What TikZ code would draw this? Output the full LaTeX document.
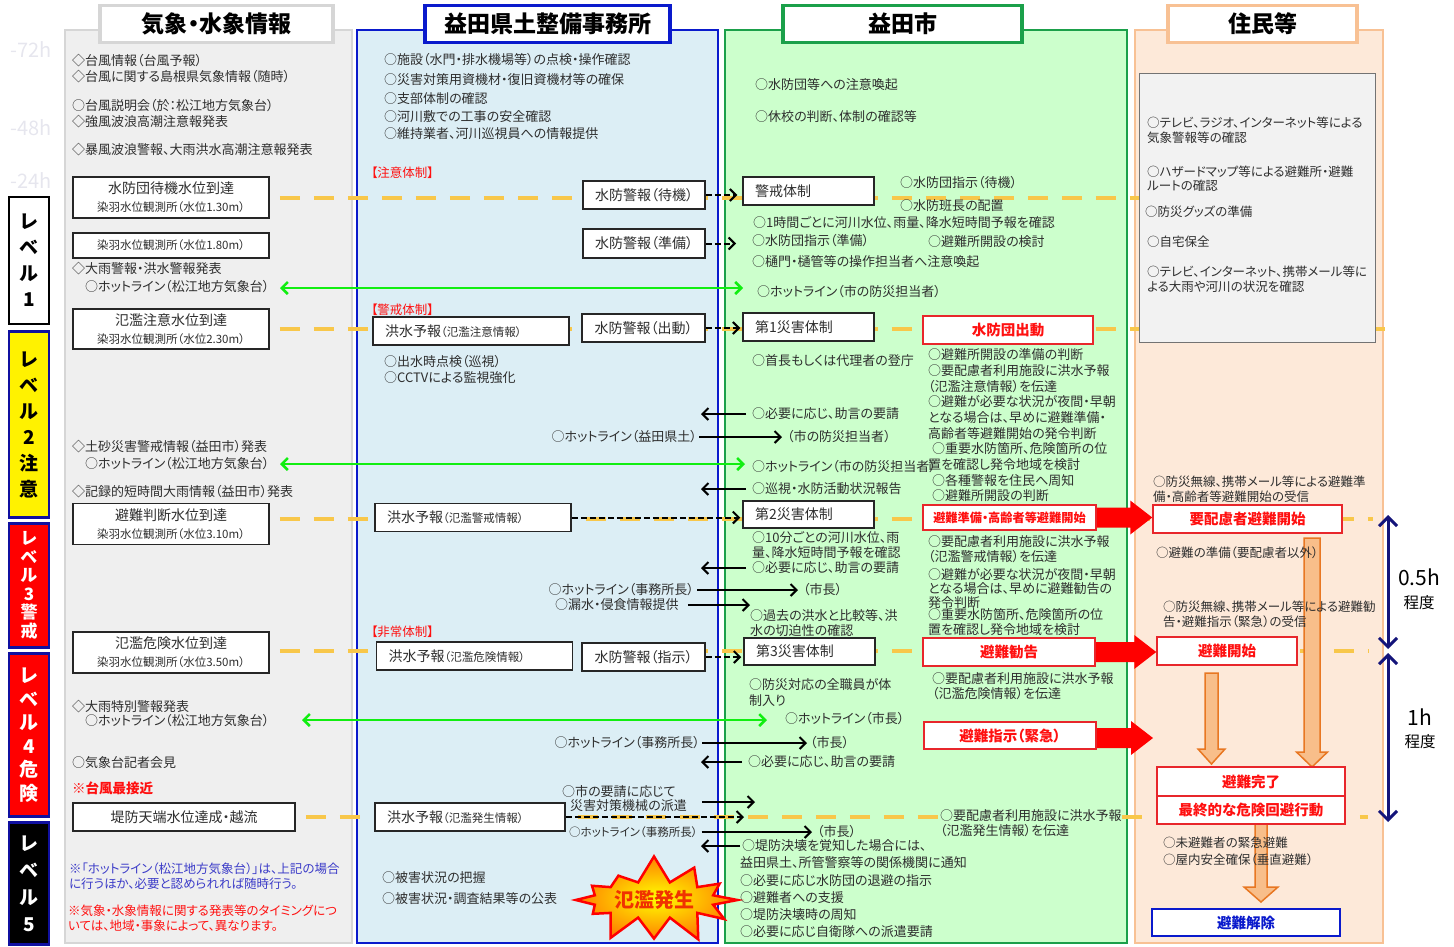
\documentclass[tikz,border=0pt]{standalone}
\usepackage{fontspec}
\setmainfont{Noto Sans CJK JP}[RawFeature=+palt]
\usetikzlibrary{arrows.meta,calc,shapes.symbols}

\definecolor{panelgray}{HTML}{EFEFEF}
\definecolor{edgegray}{HTML}{D6D6D6}
\definecolor{panelblue}{HTML}{DCEEF5}
\definecolor{edgeblue}{HTML}{0A1ACC}
\definecolor{panelgreen}{HTML}{CCFFCC}
\definecolor{edgegreen}{HTML}{1BA04A}
\definecolor{panelpeach}{HTML}{FDE9D9}
\definecolor{edgepeach}{HTML}{F8C194}
\definecolor{dashorange}{HTML}{F8C74A}
\definecolor{hotgreen}{HTML}{11EE11}
\definecolor{boxred}{HTML}{E8262B}
\definecolor{txtred}{HTML}{FF1010}
\definecolor{navyarrow}{HTML}{14147A}
\definecolor{fatfill}{HTML}{F8BE8A}
\definecolor{fatedge}{HTML}{E87722}
\definecolor{notepurple}{HTML}{3B3BC8}
\definecolor{lvlblue}{HTML}{1010A0}
\definecolor{faint}{HTML}{E6E6EE}
\definecolor{ink}{HTML}{2E2E2E}
\definecolor{innergray}{HTML}{F2F2F2}

\pgfdeclarelayer{panel}
\pgfdeclarelayer{rows}
\pgfsetlayers{panel,rows,main}

\newcommand{\szfont}[2]{\fontsize{#1}{#2}\selectfont}
\newcommand{\sitelevel}[1]{{\szfont{11.5}{13}染羽水位観測所（水位#1m）}}
\newcommand{\smallpart}[1]{{\szfont{11.5}{13}#1}}
% fat block arrows
\newcommand{\fatdown}[4]{%
  \filldraw[fatarrow] let \p1=#1, \p2=#2 in
    (\x1-#3,\y1) -- (\x1+#3,\y1) -- (\x1+#3,\y2+15pt) -- (\x1+#4,\y2+15pt)
    -- (\x1,\y2) -- (\x1-#4,\y2+15pt) -- (\x1-#3,\y2+15pt) -- cycle;}
\newcommand{\fatright}[2]{%
  \fill[red] let \p1=#1, \p2=#2 in
    (\x1,\y1+10pt) -- (\x2-22pt,\y1+10pt) -- (\x2-22pt,\y1+17pt) -- (\x2,\y1)
    -- (\x2-22pt,\y1-17pt) -- (\x2-22pt,\y1-10pt) -- (\x1,\y1-10pt) -- cycle;}

\tikzset{
  body/.style={anchor=west, inner sep=0pt, align=left, text=ink, font=\szfont{13}{15.5}},
  bodyr/.style={body, anchor=east},
  tag/.style={body, text=txtred, font=\szfont{12.5}{15}},
  wbox/.style={draw=black!85, line width=1.5pt, fill=white, inner sep=0pt, align=center, text=ink, font=\szfont{14}{18}},
  fbox/.style={wbox, minimum width=196, minimum height=28, text width=172, align=left},
  tbox/.style={wbox, minimum width=131, minimum height=28, text width=107, align=left},
  redbox/.style={draw=boxred, line width=1.5pt, fill=white, inner sep=0pt, text=txtred, font=\bfseries\szfont{14.5}{17}},
  title/.style={fill=white, line width=3.5pt, minimum height=37, inner sep=0pt, font=\bfseries\szfont{23}{26}},
  lvl/.style={draw=lvlblue, line width=2.5pt, minimum width=40, inner sep=0pt, align=center, font=\bfseries\szfont{19}{26}},
  faintlbl/.style={text=faint, inner sep=0pt, font=\szfont{20}{22}},
  odash/.style={draw=dashorange, line width=4pt, dash pattern=on 20pt off 14pt},
  hot/.style={draw=hotgreen, line width=2.5pt, {Straight Barb[length=6pt,width=12pt]}-{Straight Barb[length=6pt,width=12pt]}},
  req/.style={draw=black, line width=2pt, -{Straight Barb[length=6pt,width=12pt]}},
  reqd/.style={req, dash pattern=on 6pt off 3pt},
  fatarrow/.style={fill=fatfill, draw=fatedge, line width=1.5pt},
  span/.style={draw=navyarrow, line width=3pt, {Straight Barb[length=9pt,width=18pt]}-{Straight Barb[length=9pt,width=18pt]}},
  spanlbl/.style={inner sep=0pt, text=black, font=\szfont{21}{24}},
  burst/.style={shape=starburst, starburst points=12, starburst point height=28pt, random starburst=7,
    minimum width=168pt, minimum height=66pt, draw=red, line width=2.5pt, inner color=yellow, outer color=orange,
    text={rgb,255:red,240;green,50;blue,0}, font=\bfseries\szfont{20}{22}},
}

\begin{document}
\begin{tikzpicture}[x=1pt,y=-1pt]
	\useasboundingbox (0,0) rectangle (1454,946);

	% panels
	\begin{pgfonlayer}{panel}
		\draw[fill=panelgray, draw=edgegray, line width=1.5pt] (65,30) rectangle (352,943);
		\draw[fill=panelblue, draw=edgeblue, line width=2pt] (357,30) rectangle (718,943);
		\draw[fill=panelgreen, draw=edgegreen, line width=2.5pt] (725,30) rectangle (1127,943);
		\draw[fill=panelpeach, draw=edgepeach, line width=2pt] (1135,30) rectangle (1383,943);
	\end{pgfonlayer}

	% titles
	\node[title, draw=edgegray, minimum width=233] (tmet) at (216.5,24) {気象・水象情報};
	\node[title, draw=edgeblue, minimum width=245] (tpref) at (547.5,24) {益田県土整備事務所};
	\node[title, draw=edgegreen, minimum width=239] (tcity) at (902.5,24) {益田市};
	\node[title, draw=edgepeach, minimum width=189] (tres) at (1262.5,24) {住民等};

	% time marks
	\node[faintlbl] (h72) at (31,50) {-72h};
	\node[faintlbl] (h48) at (31,128) {-48h};
	\node[faintlbl] (h24) at (31,181) {-24h};

	% levels
	\node[lvl, fill=white, draw=black, minimum height=127] (lv1) at (29,260.5) {レ\\ベ\\ル\\1};
	\node[lvl, fill=yellow, minimum height=186] (lv2) at (29,424.5) {レ\\ベ\\ル\\2\\注\\意};
	\node[lvl, fill=red, text=white, minimum height=124, font=\bfseries\szfont{17}{18.5}] (lv3) at (29,585.5) {レ\\ベ\\ル\\3\\警\\戒};
	\node[lvl, fill=red, text=white, minimum height=163, font=\bfseries\szfont{19}{23.5}] (lv4) at (29,735) {レ\\ベ\\ル\\4\\危\\険};
	\node[lvl, fill=black, text=white, minimum height=122, font=\bfseries\szfont{19}{27}] (lv5) at (29,883.5) {レ\\ベ\\ル\\5};

	% weather and river information
	\node[body] (m1) at (72,61) {◇台風情報（台風予報）};
	\node[body] (m2) at (72,77) {◇台風に関する島根県気象情報（随時）};
	\node[body] (m3) at (72,106) {○台風説明会（於：松江地方気象台）};
	\node[body] (m4) at (72,122) {◇強風波浪高潮注意報発表};
	\node[body] (m5) at (72,150) {◇暴風波浪警報、大雨洪水高潮注意報発表};
	\node[wbox, minimum width=196, minimum height=41] (s1) at (171,197.5) {水防団待機水位到達\\\sitelevel{1.30}};
	\node[wbox, minimum width=196, minimum height=25] (s2) at (171,245.5) {\sitelevel{1.80}};
	\node[body] (m6) at (72,269) {◇大雨警報・洪水警報発表};
	\node[body] (m7) at (85,287) {○ホットライン（松江地方気象台）};
	\node[wbox, minimum width=196, minimum height=40] (s3) at (171,329) {氾濫注意水位到達\\\sitelevel{2.30}};
	\node[body] (m8) at (72,447) {◇土砂災害警戒情報（益田市）発表};
	\node[body] (m9) at (85,464) {○ホットライン（松江地方気象台）};
	\node[body] (m10) at (72,492) {◇記録的短時間大雨情報（益田市）発表};
	\node[wbox, minimum width=196, minimum height=41] (s4) at (171,524) {避難判断水位到達\\\sitelevel{3.10}};
	\node[wbox, minimum width=196, minimum height=41] (s5) at (171,652.5) {氾濫危険水位到達\\\sitelevel{3.50}};
	\node[body] (m11) at (72,707) {◇大雨特別警報発表};
	\node[body] (m12) at (85,721) {○ホットライン（松江地方気象台）};
	\node[body] (m13) at (72,763) {○気象台記者会見};
	\node[body, text=txtred, font=\bfseries\szfont{13.5}{16}] (m14) at (72,788) {※台風最接近};
	\node[wbox, minimum width=222, minimum height=28] (s6) at (184,817) {堤防天端水位達成・越流};
	\node[body, text=notepurple, font=\szfont{12.5}{15}] (n1) at (69,876) {※「ホットライン（松江地方気象台）」は、上記の場合\\に行うほか、必要と認められれば随時行う。};
	\node[body, text=txtred, font=\szfont{12.5}{15}] (n2) at (68,918) {※気象・水象情報に関する発表等のタイミングにつ\\いては、地域・事象によって、異なります。};

	% prefectural office
	\node[body] (k1) at (384,60) {○施設（水門・排水機場等）の点検・操作確認};
	\node[body] (k2) at (384,80) {○災害対策用資機材・復旧資機材等の確保};
	\node[body] (k3) at (384,99) {○支部体制の確認};
	\node[body] (k4) at (384,117) {○河川敷での工事の安全確認};
	\node[body] (k5) at (384,134) {○維持業者、河川巡視員への情報提供};
	\node[tag] (tg1) at (371,173) {【注意体制】};
	\node[wbox, minimum width=122, minimum height=28] (w1) at (644,195) {水防警報（待機）};
	\node[wbox, minimum width=122, minimum height=29] (w2) at (644,243.5) {水防警報（準備）};
	\node[tag] (tg2) at (371,310) {【警戒体制】};
	\node[fbox] (f1) at (471,331) {洪水予報\smallpart{（氾濫注意情報）}};
	\node[wbox, minimum width=123, minimum height=28] (w3) at (643.5,328) {水防警報（出動）};
	\node[body] (k6) at (384,369.5) {○出水時点検（巡視）\\○CCTVによる監視強化};
	\node[bodyr] (k7) at (697,437) {○ホットライン（益田県土）};
	\node[fbox] (f2) at (473,517.5) {洪水予報\smallpart{（氾濫警戒情報）}};
	\node[bodyr] (k8) at (694,590) {○ホットライン（事務所長）};
	\node[body] (k9) at (555,605) {○漏水・侵食情報提供};
	\node[tag] (tg3) at (371,632) {【非常体制】};
	\node[fbox] (f3) at (474.5,656) {洪水予報\smallpart{（氾濫危険情報）}};
	\node[wbox, minimum width=123, minimum height=28] (w4) at (643.5,657) {水防警報（指示）};
	\node[bodyr] (k10) at (700,743) {○ホットライン（事務所長）};
	\node[body, font=\szfont{13}{14}] (k11) at (562,798.5) {○市の要請に応じて\\\hspace*{8pt}災害対策機械の派遣};
	\node[fbox, minimum width=190, text width=166] (f4) at (470,817) {洪水予報\smallpart{（氾濫発生情報）}};
	\node[body, font=\szfont{11.5}{14}] (k12) at (569,832) {○ホットライン（事務所長）};
	\node[body] (k13) at (382,878) {○被害状況の把握};
	\node[body] (k14) at (382,899) {○被害状況・調査結果等の公表};
	\node[burst] (flood) at (654,900) {氾濫発生};

	% city
	\node[body] (c1) at (755,85) {○水防団等への注意喚起};
	\node[body] (c2) at (755,117) {○休校の判断、体制の確認等};
	\node[tbox] (kei) at (808.5,191) {警戒体制};
	\node[body] (c3) at (900,183) {○水防団指示（待機）};
	\node[body] (c4) at (900,206) {○水防班長の配置};
	\node[body] (c5) at (753,223) {○1時間ごとに河川水位、雨量、降水短時間予報を確認};
	\node[body] (c7) at (752,241) {○水防団指示（準備）};
	\node[body] (c8) at (928,242) {○避難所開設の検討};
	\node[body] (c9) at (752,262) {○樋門・樋管等の操作担当者へ注意喚起};
	\node[body] (c6) at (757,292) {○ホットライン（市の防災担当者）};
	\node[tbox] (d1) at (808.5,327) {第1災害体制};
	\node[redbox, minimum width=170, minimum height=28] (r1) at (1008,330) {水防団出動};
	\node[body] (c10) at (752,361) {○首長もしくは代理者の登庁};
	\node[body, font=\szfont{13}{15.67}] (c11) at (928,425.5) {○避難所開設の準備の判断\\○要配慮者利用施設に洪水予報\\（氾濫注意情報）を伝達\\○避難が必要な状況が夜間・早朝\\となる場合は、早めに避難準備・\\高齢者等避難開始の発令判断\\\hspace*{4pt}○重要水防箇所、危険箇所の位\\置を確認し発令地域を検討\\\hspace*{4pt}○各種警報を住民へ周知\\\hspace*{4pt}○避難所開設の判断};
	\node[body] (c14) at (752,414) {○必要に応じ、助言の要請};
	\node[body] (c15) at (787,437) {（市の防災担当者）};
	\node[body] (c13) at (752,467) {○ホットライン（市の防災担当者）};
	\node[body] (c16) at (752,489) {○巡視・水防活動状況報告};
	\node[tbox, minimum height=27] (d2) at (808.5,514.5) {第2災害体制};
	\node[redbox, minimum width=173, minimum height=25, font=\bfseries\szfont{12.2}{14}] (r2) at (1009.5,517.5) {避難準備・高齢者等避難開始};
	\node[body, font=\szfont{13}{15}] (c17) at (752,545.5) {○10分ごとの河川水位、雨\\量、降水短時間予報を確認};
	\node[body] (c18) at (752,568) {○必要に応じ、助言の要請};
	\node[body] (c19) at (803,590) {（市長）};
	\node[body] (c20) at (750,623) {○過去の洪水と比較等、洪\\水の切迫性の確認};
	\node[body, font=\szfont{13}{15}] (c21) at (928,549.5) {○要配慮者利用施設に洪水予報\\（氾濫警戒情報）を伝達};
	\node[body, font=\szfont{13}{14}] (c21b) at (928,589) {○避難が必要な状況が夜間・早朝\\となる場合は、早めに避難勧告の\\発令判断};
	\node[body, font=\szfont{13}{15}] (c21c) at (928,622.5) {○重要水防箇所、危険箇所の位\\置を確認し発令地域を検討};
	\node[tbox, minimum height=27] (d3) at (809.5,651.5) {第3災害体制};
	\node[redbox, minimum width=172, minimum height=28] (r3) at (1009,652) {避難勧告};
	\node[body, font=\szfont{13}{15}] (c22) at (932,686) {○要配慮者利用施設に洪水予報\\（氾濫危険情報）を伝達};
	\node[body, font=\szfont{13}{16}] (c23) at (749,693) {○防災対応の全職員が体\\制入り};
	\node[body] (c24) at (785,719) {○ホットライン（市長）};
	\node[redbox, minimum width=172, minimum height=27] (r4) at (1010,735.5) {避難指示（緊急）};
	\node[body] (c25) at (810,743) {（市長）};
	\node[body] (c26) at (748,762) {○必要に応じ、助言の要請};
	\node[body, font=\szfont{13}{15}] (e1) at (940,823) {○要配慮者利用施設に洪水予報\\（氾濫発生情報）を伝達};
	\node[body] (c27) at (817,832) {（市長）};
	\node[body] (c28) at (742,846) {○堤防決壊を覚知した場合には、};
	\node[body, font=\szfont{13}{17.25}] (c29) at (740,897.5) {益田県土、所管警察等の関係機関に通知\\○必要に応じ水防団の退避の指示\\○避難者への支援\\○堤防決壊時の周知\\○必要に応じ自衛隊への派遣要請};

	% residents
	\node[draw=black!55, line width=1pt, fill=innergray, minimum width=236, minimum height=269, inner sep=0pt] (gbox) at (1257,207.5) {};
	\node[body, font=\szfont{12.5}{15}] (g1) at (1147,130) {○テレビ、ラジオ、インターネット等による\\気象警報等の確認};
	\node[body, font=\szfont{12.5}{14}] (g2) at (1147,178.5) {○ハザードマップ等による避難所・避難\\ルートの確認};
	\node[body, font=\szfont{12.5}{15}] (g3) at (1145,212) {○防災グッズの準備};
	\node[body, font=\szfont{12.5}{15}] (g4) at (1147,242) {○自宅保全};
	\node[body, font=\szfont{12.5}{15}] (g5) at (1147,279.5) {○テレビ、インターネット、携帯メール等に\\よる大雨や河川の状況を確認};
	\node[body, font=\szfont{12.5}{15}] (g6) at (1153,489.5) {○防災無線、携帯メール等による避難準\\備・高齢者等避難開始の受信};
	\node[redbox, minimum width=189, minimum height=28] (ya) at (1247.5,519) {要配慮者避難開始};
	\node[body, font=\szfont{12.5}{15}] (g7) at (1156,553) {○避難の準備（要配慮者以外）};
	\node[body, font=\szfont{12.5}{15}] (g8) at (1163,614) {○防災無線、携帯メール等による避難勧\\告・避難指示（緊急）の受信};
	\node[redbox, minimum width=140, minimum height=28] (yb) at (1227,651) {避難開始};
	\node[redbox, minimum width=188, minimum height=29] (yc) at (1251,781.5) {避難完了};
	\node[redbox, minimum width=188, minimum height=28] (yd) at (1251,810) {最終的な危険回避行動};
	\node[body, font=\szfont{12.5}{17}] (g9) at (1163,851.5) {○未避難者の緊急避難\\○屋内安全確保（垂直避難）};
	\node[redbox, draw=edgeblue, text=edgeblue, minimum width=188, minimum height=27] (ye) at (1246,922.5) {避難解除};

	% time spans
	\coordinate (sp1) at (1388,515);
	\coordinate (sp2) at (1388,649);
	\coordinate (sp3) at (1388,653);
	\coordinate (sp4) at (1388,822);
	\draw[span] (sp1) -- (sp2);
	\draw[span] (sp3) -- (sp4);
	\node[spanlbl] (sl1) at (1419,577) {0.5h};
	\node[spanlbl, font=\szfont{15.5}{18}] (sl2) at (1419,603) {程度};
	\node[spanlbl] (sl3) at (1420,717) {1h};
	\node[spanlbl, font=\szfont{15.5}{18}] (sl4) at (1420,742) {程度};

	% hotlines
	\coordinate (hl1) at (280,288);
	\coordinate (hl2) at (280,464);
	\coordinate (hl3) at (302,720);
	\draw[hot, shorten >=14pt] (hl1) -- (hl1 -| c6.west);
	\draw[hot, shorten >=7pt] (hl2) -- (hl2 -| c13.west);
	\draw[hot, shorten >=18pt] (hl3) -- (hl3 -| c24.west);

	% requests between office and city
	\coordinate (colB) at (701,0);
	\coordinate (q5) at (755,802);
	\coordinate (q6) at (744,817);
	\draw[reqd, shorten >=5pt] (w1.east) -- (w1.east -| kei.west);
	\draw[reqd, shorten >=16pt] (w2.east) -- (w2.east -| c7.west);
	\draw[reqd, shorten >=2pt] (w3.east) -- (w3.east -| d1.west);
	\draw[req, shorten <=6pt] (c14.west) -- (c14.west -| colB);
	\draw[req, shorten <=2pt, shorten >=5pt] (k7.east) -- (k7.east -| c15.west);
	\draw[req, shorten <=6pt] (c16.west) -- (c16.west -| colB);
	\draw[reqd, shorten >=2pt] (f2.east) -- (f2.east -| d2.west);
	\draw[req, shorten <=6pt] (c18.west) -- (c18.west -| colB);
	\draw[req, shorten <=3pt, shorten >=5pt] (k8.east) -- (k8.east -| c19.west);
	\draw[req, shorten <=9pt] (k9.east) -- (k9.east -| c20.west);
	\draw[reqd, shorten >=2pt] (w4.east) -- (w4.east -| d3.west);
	\draw[req, shorten <=2pt, shorten >=3pt] (k10.east) -- (k10.east -| c25.west);
	\draw[req, shorten <=6pt] (c26.west) -- (c26.west -| colB);
	\draw[req, shorten <=15pt] (k11.east |- q5) -- (q5);
	\draw[reqd] (f4.east) -- (f4.east -| q6);
	\draw[req, shorten <=4pt, shorten >=5pt] (k12.east) -- (k12.east -| c27.west);
	\draw[req, shorten <=2pt] (c28.west) -- (c28.west -| colB);

	% level rows and block arrows
	\begin{pgfonlayer}{rows}
		\coordinate (edgeR) at (1385,0);
		\coordinate (endC) at (1373,0);
		\coordinate (endD) at (1368,0);
		\draw[odash, shorten <=10pt] (s1.east) -- (s1.east -| gbox.west);
		\draw[odash, shorten <=10pt] (s3.east) -- (s3.east -| edgeR);
		\draw[odash, shorten <=10pt] (s4.east |- ya.west) -- (ya.west -| endC);
		\draw[odash, shorten <=10pt] (s5.east |- yb.west) -- (yb.west -| endD);
		\draw[odash, shorten <=10pt] (s6.east) -- (s6.east -| e1.west);
		\draw[odash] (s6.east -| e1.east) -- (s6.east -| endD);

		\fatright{(r2.east)}{(ya.west)}
		\fatright{(r3.east)}{(yb.west)}
		\coordinate (ra3) at (1153,738);
		\fatright{(r4.east |- ra3)}{(ra3)}

		\coordinate (fa1) at (1312,538);
		\coordinate (fb1) at (1312,767);
		\coordinate (fa2) at (1211.5,673);
		\coordinate (fb2) at (1211.5,764);
		\coordinate (fa3) at (1261,824);
		\coordinate (fb3) at (1261,902);
		\fatdown{(fa1)}{(fb1)}{8pt}{15.5pt}
		\fatdown{(fa2)}{(fb2)}{6.5pt}{13.5pt}
		\fatdown{(fa3)}{(fb3)}{6pt}{17pt}
	\end{pgfonlayer}
\end{tikzpicture}
\end{document}
